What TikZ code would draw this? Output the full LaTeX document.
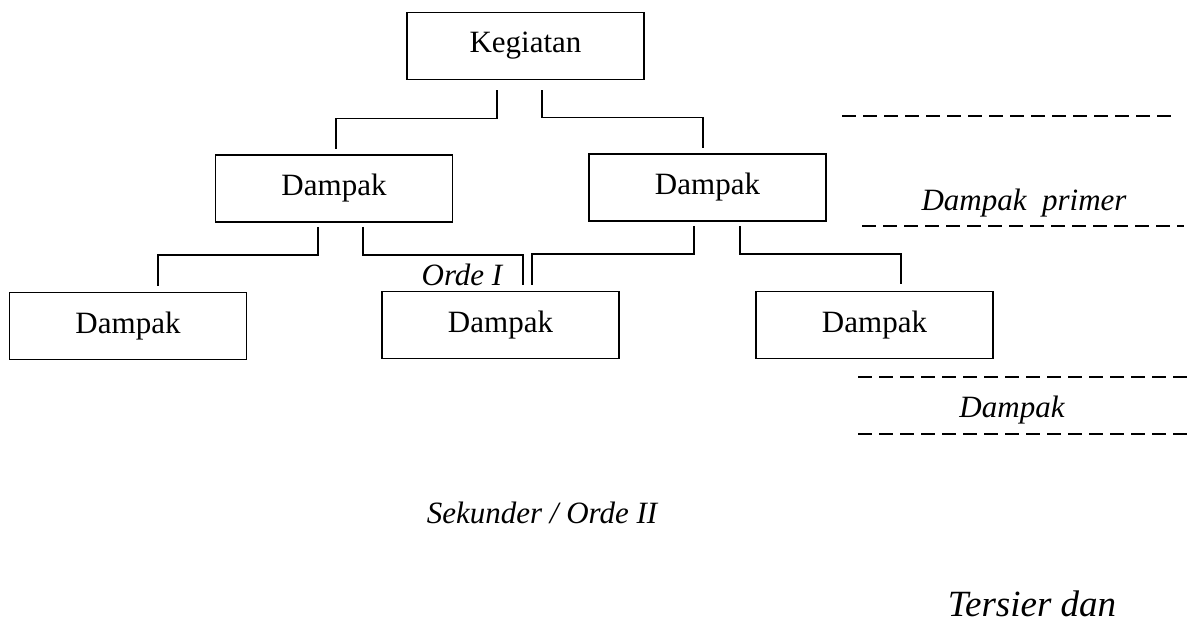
\documentclass[tikz,border=0pt]{standalone}
\usepackage{fontspec}
\setmainfont{Liberation Serif}
\usetikzlibrary{calc}

\begin{document}
\begin{tikzpicture}[x=0.5pt, y=-0.5pt, line width=0.9pt,
		box/.style={draw, minimum width=118.5pt, minimum height=33.5pt, inner sep=0pt, font=\fontsize{15.5}{18}\selectfont},
		lbl/.style={inner sep=0pt, font=\fontsize{15.5}{18}\selectfont\itshape},
		sep/.style={dashed, dash pattern=on 7pt off 3.5pt, line width=0.8pt}]
				\useasboundingbox (0,0) rectangle (1195,628);
				
				\node[box] (keg) at (525.5,46) {Kegiatan};
				\node[box] (d1) at (334,188.5) {Dampak};
				\node[box] (d2) at (707.5,187.5) {Dampak};
				\node[box] (d3) at (128,326) {Dampak};
				\node[box] (d4) at (500.5,325) {Dampak};
				\node[box] (d5) at (874.5,325) {Dampak};
				
				\draw ($(keg.south)+(-28.5,10)$) -- ++(0,28) -| ($(d1.north)+(2,-5)$);
				\draw ($(keg.south)+(16.5,10)$) -- ++(0,27) -| ($(d2.north)+(-4.5,-5)$);
				\draw ($(d1.south)+(-16,4)$) -- ++(0,28) -| ($(d3.north)+(30,-6)$);
				\draw ($(d1.south)+(29,4)$) -- ++(0,28) -| ($(d4.north)+(22.5,-6)$);
				\draw ($(d2.south)+(-13.5,4)$) -- ++(0,28) -| ($(d4.north)+(31.5,-6)$);
				\draw ($(d2.south)+(32.5,4)$) -- ++(0,28) -| ($(d5.north)+(26.5,-7)$);
				
				\draw[sep] (842,116) -- (1174,116);
				\draw[sep] (862,226) -- (1184,226);
				\draw[sep] (858,377) -- (1187,377);
				\draw[sep] (858,434) -- (1187,434);
				
				\node[lbl] (prim) at (1024,203) {Dampak\ \ primer};
				\node[lbl] (orde) at (462,275) {Orde I};
				\node[lbl] (dmp) at (1012,410) {Dampak};
				\node[lbl] (sek) at (542,513) {Sekunder / Orde II};
				\node[lbl, font=\fontsize{18.5}{22}\selectfont\itshape] (ter) at (1032,604) {Tersier dan};
			\end{tikzpicture}
\end{document}
